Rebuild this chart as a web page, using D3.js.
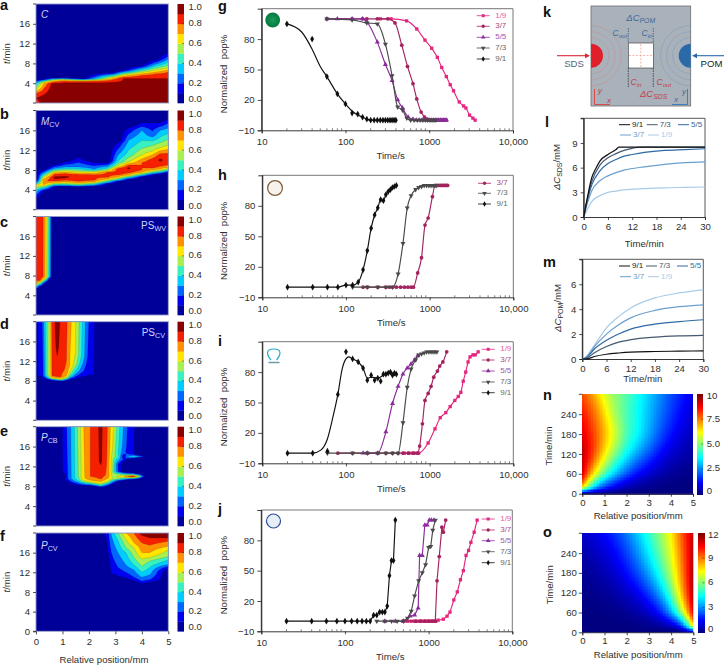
<!DOCTYPE html>
<html><head><meta charset="utf-8">
<style>html,body{margin:0;padding:0;background:#fff}svg{display:block}text{font-family:"Liberation Sans",Arial,sans-serif;white-space:pre}</style>
<script src="https://cdnjs.cloudflare.com/ajax/libs/d3/7.8.5/d3.min.js"></script>
</head><body><svg id="c" width="724" height="666"></svg>
<script>
// ---------- heat map panels: column knots [x, [[t,v],...]]
const mapA=[[0,[[0,.85],[1,.9],[2,.8],[3,.55],[4,.35],[4.6,.1],[5,.03]]],[.3,[[0,.95],[1,.95],[2,.88],[3,.8],[4,.7],[4.3,.55],[4.8,.1],[5.3,0]]],[.65,[[0,1],[3.9,.95],[4.2,.8],[4.6,.6],[5.1,.1],[5.5,0]]],[1,[[0,1],[4.1,.9],[4.4,.8],[4.7,.6],[5.1,.1],[5.5,0]]],[1.8,[[0,1],[4.1,.9],[4.35,.8],[4.55,.6],[4.9,.1],[5.3,0]]],[2.9,[[0,1],[4.2,.9],[4.7,.8],[5.2,.6],[6.1,.1],[6.5,0]]],[3.3,[[0,1],[5,.9],[5.2,.8],[5.7,.6],[6.6,.1],[7,0]]],[4,[[0,1],[5,.9],[5.6,.8],[6.2,.6],[7.5,.1],[8,0]]],[4.5,[[0,1],[5,.9],[5.9,.8],[6.6,.6],[8.6,.1],[9,0]]],[5,[[0,1],[5,.9],[6.3,.8],[7.1,.6],[10,.1],[10.5,0]]]];
const mapB=[[0,[[1.5,0],[2.3,.1],[3.5,.3],[4.7,.6],[5,.65],[5.4,.3],[5.8,.1],[6.2,0]]],[.3,[[3,0],[3.8,.1],[4.4,.4],[5,.7],[5.8,.8],[6.6,.6],[7.4,.3],[8,.1],[8.4,0]]],[.7,[[4,0],[4.6,.1],[5,.4],[5.5,.7],[6,.88],[6.5,.93],[7.2,.8],[7.7,.6],[8.3,.3],[9,.1],[9.4,0]]],[1.1,[[4.2,0],[4.7,.1],[5,.4],[5.6,.7],[6.2,.88],[6.6,.93],[7.3,.8],[7.8,.6],[8.6,.3],[9.6,.1],[10,0]]],[1.6,[[4.1,0],[4.6,.1],[4.9,.4],[5.4,.7],[5.8,.82],[7,.85],[7.6,.6],[8.6,.3],[10.5,.1],[11,0]]],[2.2,[[4,0],[4.7,.1],[5.1,.4],[5.6,.7],[6,.82],[7,.82],[7.6,.6],[8.2,.3],[9.5,.1],[10,0]]],[2.7,[[4.6,0],[5.2,.1],[5.6,.4],[6.2,.7],[6.6,.82],[7.5,.82],[7.9,.6],[8.4,.4],[9.4,.1],[9.8,0]]],[3.1,[[5.1,0],[5.7,.1],[6,.4],[6.6,.7],[7.2,.85],[8.2,.85],[8.8,.6],[9.8,.4],[11,.3],[13.5,.1],[14,0]]],[3.5,[[5.6,0],[6.1,.1],[6.5,.4],[7,.7],[7.6,.85],[8.4,.92],[9,.8],[9.6,.6],[11,.45],[14,.3],[16.5,.1],[17,0]]],[4,[[6,0],[6.6,.1],[7,.4],[7.5,.7],[8,.8],[9.5,.8],[11,.6],[13,.45],[16,.3],[17.5,.1],[18,0]]],[4.4,[[6.4,0],[7,.1],[7.4,.4],[8,.7],[8.6,.85],[10,.85],[11.8,.6],[13.5,.45],[15,.25],[17.5,.1],[18,0]]],[4.7,[[6.6,0],[7.2,.1],[7.6,.4],[8.2,.7],[9,.85],[10,.92],[11,.85],[12.5,.6],[14,.45],[16,.3],[17.5,.1],[18.2,0]]],[5,[[7,0],[7.5,.1],[7.9,.4],[8.5,.7],[9.3,.85],[11,.85],[13,.6],[14.8,.45],[17,.25],[18.3,.1],[18.8,0]]]];
const mapC=[[0,[[4.8,0],[5.4,.1],[5.7,.4],[6.2,.6],[6.6,.8],[20,.82]]],[.15,[[5,0],[5.8,.1],[6.2,.4],[6.6,.6],[7,.8],[7.4,.88],[20,.88]]],[.3,[[5.5,0],[6.3,.1],[6.8,.4],[7.2,.6],[7.8,.78],[20,.78]]],[.4,[[6,0],[6.7,.1],[7.2,.4],[7.6,.6],[20,.62]]],[.5,[[6.5,0],[7.3,.1],[7.8,.4],[20,.42]]],[.6,[[7,0],[7.9,.1],[20,.12]]],[.66,[[20,0]]],[5,[[20,0]]]];
const mapD=[[0,[[20,0]]],[.04,[[8.9,0],[9,.05],[20,.05]]],[.07,[[8.8,0],[9,.11],[20,.11]]],[.2,[[8.4,0],[8.9,.1],[20,.14]]],[.3,[[8.1,0],[8.6,.12],[9,.25],[20,.3]]],[.43,[[8,0],[8.4,.2],[8.8,.4],[9.3,.5],[20,.5]]],[.53,[[7.9,0],[8.3,.2],[8.6,.5],[9.2,.65],[20,.65]]],[.6,[[7.8,0],[8.2,.2],[8.5,.6],[9,.8],[20,.82]]],[.8,[[7.6,0],[8,.15],[8.4,.6],[8.9,.82],[10,.87],[13,.9],[15,.93],[20,.96]]],[.95,[[7.7,0],[8,.2],[8.3,.6],[8.8,.8],[11,.84],[20,.87]]],[1.15,[[7.7,0],[8.1,.15],[8.5,.5],[9,.7],[10,.78],[12,.8],[20,.82]]],[1.3,[[7.8,0],[8.3,.1],[8.8,.35],[9.6,.55],[11,.68],[20,.72]]],[1.5,[[8,0],[8.5,.1],[9.4,.3],[10.5,.45],[11.5,.55],[14,.6],[20,.6]]],[1.7,[[8.3,0],[8.8,.1],[10,.25],[11.5,.35],[13,.42],[20,.44]]],[1.95,[[8.7,0],[9,.1],[11,.15],[13,.2],[20,.22]]],[2.2,[[8.9,0],[9.2,.1],[20,.11]]],[2.27,[[20,0]]],[5,[[20,0]]]];
const mapE=[[0,[[20,0]]],[.97,[[20,0]]],[1,[[10.5,0],[11,.1],[20,.12]]],[1.2,[[8.5,0],[8.9,.1],[9.5,.2],[20,.22]]],[1.4,[[8,0],[8.4,.1],[9,.25],[9.6,.35],[20,.36]]],[1.6,[[7.9,0],[8.2,.1],[8.8,.3],[9.3,.45],[10,.5],[20,.52]]],[1.8,[[7.8,0],[8.1,.1],[8.6,.35],[9,.55],[9.6,.68],[20,.7]]],[2.05,[[7.8,0],[8.1,.1],[8.5,.4],[8.9,.62],[9.4,.75],[10,.8],[20,.8]]],[2.25,[[7.8,0],[8,.15],[8.4,.45],[8.8,.65],[9.3,.75],[10,.82],[13,.86],[20,.86]]],[2.45,[[7.6,0],[7.9,.2],[8.2,.45],[8.7,.65],[9.2,.75],[9.6,.82],[11.5,.88],[13,.92],[20,.93]]],[2.7,[[7.7,0],[8.1,.15],[8.6,.45],[9,.6],[9.6,.72],[10.2,.78],[20,.8]]],[2.9,[[8.2,0],[8.7,.2],[9.2,.45],[9.6,.6],[10.3,.55],[11,.5],[13,.52],[14,.55],[16,.6],[20,.62]]],[3.1,[[8.7,0],[9,.1],[9.5,.5],[10,.62],[10.5,.5],[11,.2],[12.5,.2],[13.5,.35],[14,.45],[14.6,.4],[16,.42],[20,.45]]],[3.3,[[9,0],[9.5,.4],[10,.7],[10.5,.4],[11,.02],[12.5,0],[13.4,.2],[14,.12],[14.6,.22],[16,.27],[20,.3]]],[3.5,[[9.2,0],[9.6,.4],[10,.85],[10.4,.4],[10.9,0],[13.4,0],[13.7,.25],[14,.32],[14.3,.22],[15,.15],[20,.17]]],[3.7,[[9.3,0],[9.6,.4],[10,.88],[10.4,.4],[10.8,0],[13.5,0],[13.75,.25],[14,.4],[14.25,.25],[14.6,.1],[20,.11]]],[3.9,[[9.4,0],[9.7,.3],[10,.6],[10.3,.3],[10.6,0],[13.6,0],[14,.33],[14.4,0],[20,0]]],[4.1,[[9.8,0],[10,.12],[10.2,0],[13.8,0],[14,.15],[14.2,0],[20,0]]],[4.2,[[20,0]]],[5,[[20,0]]]];
const mapF=[[0,[[20,0]]],[2.5,[[20,0]]],[2.6,[[17,0],[20,.1]]],[2.7,[[14,0],[15,.05],[17,.1],[20,.15]]],[2.85,[[11.2,0],[11.7,.1],[16,.2],[19.5,.3],[20,.32]]],[3.1,[[10.7,0],[11.2,.1],[13,.2],[16,.3],[18.5,.4],[20,.5]]],[3.4,[[10.3,0],[10.8,.1],[12,.2],[13.5,.3],[16,.4],[17,.5],[18.7,.6],[20,.7]]],[3.7,[[9.8,0],[10.3,.1],[11,.2],[12.5,.3],[13.5,.4],[15,.5],[17,.6],[18,.7],[20,.8]]],[4,[[9.2,0],[9.7,.1],[10.2,.2],[11,.3],[12,.4],[13.2,.5],[14.7,.6],[16,.7],[18,.8],[19.5,.9],[20,.95]]],[4.3,[[9.5,0],[10,.1],[10.5,.2],[11.5,.3],[13,.4],[14.3,.5],[15,.6],[16,.7],[17.5,.8],[19,.9],[20,.97]]],[5,[[12.2,0],[12.8,.1],[13.2,.2],[13.6,.3],[14.5,.4],[15.2,.5],[16.5,.6],[17.3,.7],[18.3,.8],[19,.9],[20,1]]]];
const bandThresholds=[.1,.2,.3,.4,.5,.6,.7,.8,.9];
const bandColors=['#000098','#0000ee','#0066ff','#00ccff','#38f0c0','#a8f050','#ffe600','#ff9000','#f52000','#880000'];
const cbTicks=[0,.2,.4,.6,.8,1];
const mapTicks=[4,8,12,16];
const posTicks=[0,1,2,3,4,5];

// ---------- line panels: [time/s, normalized pop%]
const g_1_9=[[260,100],[350,100],[537,98],[710,90],[890,79],[1070,71],[1250,62],[1410,52],[1600,43],[1780,35],[1950,29],[2280,18],[2570,14],[2740,12],[3030,5],[3320,2],[3530,0]];
const g_3_7=[[60,100],[120,100],[160,100],[180,100],[240,100],[320,100],[390,96],[470,74],[550,53],[640,36],[710,21],[800,8],[880,3],[950,1],[1000,0],[1060,0],[1120,0],[1180,0],[1240,0],[1300,0],[1360,0],[1420,0],[1480,0],[1540,0],[1600,0]];
const g_5_5=[[60,100],[80,100],[120,100],[160,100],[180,97],[240,77],[300,55],[360,39],[420,20],[480,12],[560,3],[640,1],[700,0],[760,0],[820,0],[880,0],[940,0],[1000,0],[1060,0],[1120,0],[1180,0],[1240,0],[1300,0],[1360,0],[1420,0],[1480,0],[1540,0],[1600,0]];
const g_7_3=[[60,100],[120,99],[180,96],[240,95],[300,75],[360,44],[420,13],[480,10],[540,2],[600,0],[660,0],[720,0],[780,0],[840,0],[900,0],[960,0],[1020,0],[1080,0],[1140,0],[1200,0]];
const g_9_1=[[20,95],[60,43],[80,26],[100,16],[120,7],[140,6],[160,3],[180,1],[200,0],[220,0],[240,0],[260,0],[280,0],[300,0],[320,0],[340,0],[360,0],[380,0],[400,0]];
const g_9_1_line=[[20,95],[30,87],[40,70],[50,53],[60,43],[80,26],[100,16],[120,9],[140,5],[160,3],[180,1],[200,0],[400,0]];
const g_9_1_off=[[40,80]];

const h_3_7=[[160,0],[180,0],[240,0],[300,0],[330,0],[360,0],[400,0],[450,0],[500,0],[550,0],[600,0],[640,0],[720,14],[800,29],[880,61],[960,68],[1080,89],[1160,100],[1220,100],[1280,100],[1340,100],[1400,100],[1460,100],[1520,100],[1580,100],[1640,100]];
const h_7_3=[[120,0],[180,0],[240,0],[300,0],[360,0],[420,13],[480,43],[540,78],[600,90],[680,96],[740,98],[800,99],[860,100],[920,100],[980,100],[1040,100],[1100,100],[1160,100],[1200,100]];
const h_9_1=[[20,0],[40,0],[60,0],[80,0],[100,2],[120,2],[140,5],[160,17],[180,36],[200,58],[220,71],[240,78],[260,86],[280,85],[300,91],[320,94],[340,96],[360,98],[380,99],[400,100]];

const i_1_9=[[500,0],[560,0],[620,0],[680,0],[740,0],[960,10],[1160,24],[1340,35],[1560,40],[1760,46],[2000,52],[2200,56],[2360,60],[2520,71],[2700,80],[2880,90],[3040,95],[3300,97],[3500,97],[3800,100]];
const i_3_7=[[80,0],[120,0],[180,0],[240,0],[300,0],[360,0],[420,0],[480,0],[560,0],[640,0],[720,0],[760,7],[820,29],[880,52],[960,59],[1040,66],[1120,75],[1240,81],[1320,86],[1440,90],[1600,100]];
const i_5_5=[[160,0],[180,0],[240,0],[300,21],[360,49],[420,66],[480,78],[540,84],[600,88],[660,92],[720,96]];
const i_7_3=[[60,0],[120,0],[180,0],[240,0],[300,0],[360,0],[420,0],[480,30],[540,65],[600,83],[680,92],[740,97],[800,98],[860,99],[920,100],[980,100],[1040,100],[1100,100],[1160,100],[1220,100]];
const i_9_1=[[20,0],[40,0],[80,58],[120,93],[140,90],[160,84],[180,72],[200,77],[220,72],[240,74],[260,71],[280,78],[300,78],[320,79],[340,80],[360,77],[380,79],[400,78]];
const i_9_1_line=[[20,0],[40,0],[50,3],[60,14],[70,36],[80,58],[90,83],[100,93],[108,95],[120,93],[140,90],[160,84],[180,74],[200,75],[240,74],[280,77],[320,79],[400,78]];
const i_9_1_off=[[60,2],[100,100]];

const j_1_9=[[500,0],[560,0],[620,0],[680,0],[740,0],[800,0],[860,0],[920,0],[980,0],[1040,0],[1100,0],[1160,0],[1220,0],[1300,1],[1500,2],[1660,5],[1800,9],[2000,21],[2200,29],[2400,41],[2600,50],[2800,65],[3000,70],[3200,78],[3500,88],[3800,100]];
const j_3_7=[[500,0],[700,0],[800,0],[900,0],[1000,0],[1100,0],[1200,0],[1260,40],[1340,64],[1440,93],[1500,88],[1600,100]];
const j_5_5=[[300,0],[400,0],[500,0],[600,5],[680,6],[750,13],[780,65],[840,65],[900,95],[960,95],[1020,100],[1080,100],[1160,100]];
const j_7_3=[[240,0],[300,0],[360,0],[420,0],[500,0],[560,3],[620,10],[680,25],[760,40],[840,48],[920,56],[1000,73],[1060,74],[1120,90],[1200,100]];
const j_9_1=[[20,0],[40,0],[60,0],[80,0],[100,0],[120,0],[140,0],[160,0],[180,0],[200,0],[220,6],[240,6],[260,9],[280,9],[300,9],[320,15],[340,45],[360,60],[380,60],[400,100]];

const lineColors={'1/9':'#e5267f','3/7':'#a3235f','5/5':'#8b2c9c','7/3':'#4a4a4a','9/1':'#101010'};
const legendTextColors={'1/9':'#e6609a','3/7':'#a84a80','5/5':'#a055b0','7/3':'#666','9/1':'#666'};
const symbols={'1/9':d3.symbolSquare,'3/7':d3.symbolCircle,'5/5':d3.symbolTriangle,'7/3':d3.symbolTriangle,'9/1':d3.symbolDiamond};

// ---------- uptake curves: [min, mM]
const l_9_1=[[0,0],[1,2.6],[2,4.8],[3,5.9],[4,6.8],[6,7.6],[8,8.2],[8.7,8.5],[30,8.5]];
const l_7_3=[[0,0],[1,2.4],[2,4.3],[4,6.3],[6,7.2],[8,7.7],[10,8.1],[12,8.35],[14,8.5],[30,8.5]];
const l_5_5=[[0,0],[1,2.2],[2,3.9],[4,5.6],[6,6.5],[8,7],[10,7.4],[12,7.6],[15,7.85],[20,8.1],[25,8.2],[30,8.3]];
const l_3_7=[[0,0],[1,1.8],[2,3.2],[4,4.4],[6,5],[8,5.4],[10,5.7],[15,6.1],[20,6.4],[25,6.6],[30,6.7]];
const l_1_9=[[0,0],[1,1],[2,1.9],[4,2.6],[6,3],[8,3.15],[10,3.3],[15,3.45],[20,3.55],[25,3.6],[30,3.65]];
const m_9_1=[[0,0],[1,0],[3,.2],[6,.38],[9,.48],[12,.55],[18,.6],[24,.63],[30,.65]];
const m_7_3=[[0,0],[1,.05],[3,.5],[6,1],[9,1.35],[12,1.55],[18,1.75],[24,1.85],[30,1.9]];
const m_5_5=[[0,0],[1,.1],[3,.8],[6,1.5],[9,2],[12,2.4],[18,2.8],[24,3],[30,3.15]];
const m_3_7=[[0,0],[1,.15],[3,1],[6,2],[9,2.75],[12,3.3],[18,3.9],[24,4.2],[30,4.35]];
const m_1_9=[[0,0],[1,.2],[3,1.1],[6,2.5],[9,3.4],[12,4.1],[18,4.9],[24,5.3],[30,5.55]];
const uptakeColors={'9/1':'#101010','7/3':'#44586f','5/5':'#2f6aa3','3/7':'#6b9fce','1/9':'#a8cbe8'};

// ---------- concentration maps, grid read at these positions and times
const gridX=[0,.5,1,1.5,2,2.5,3,3.5,4,4.5,5];
const gridT=[0,20,60,120,180,240,300];
const nGrid=[
[0,0,0,0,0,0,0,0,0,0,0],
[7.5,3.2,1.6,.8,.4,.2,.1,.05,0,0,0],
[9.3,6.8,4.6,3.2,2,1.2,.7,.4,.2,.1,.05],
[9.5,8.4,6.6,5,3.9,2.9,2.1,1.3,.8,.5,.3],
[9,8.2,7.1,6,4.5,3.9,3,2.1,1.4,.9,.6],
[8.6,7.9,6.6,5.2,4.4,3.8,3.1,2.4,1.8,1.2,.8],
[8,7.2,5.9,5.1,4.6,3.9,3.3,2.6,2,1.5,1]];
const oGrid=[
[0,0,0,0,0,0,0,0,0,0,.5],
[0,0,0,0,0,.05,.1,.2,.5,1.2,8.5],
[0,0,.05,.1,.2,.4,.8,1.6,3.4,7,11],
[.1,.15,.25,.45,.8,1.3,2.2,3.5,5.6,8.6,11.5],
[.25,.35,.6,1,1.6,2.4,3.5,4.9,6.7,9,11.5],
[.5,.7,1,1.5,2.2,3.2,4.4,5.7,7.2,9.3,11.3],
[.9,1.1,1.5,2.1,2.9,3.9,5,6.2,7.5,9.6,11.2]];

// ---------- helpers
const svg=d3.select('#c');
const TXT='#2f2f2f',FS=9.6;
function label(x,y,s,o={}){return svg.append('text').attr('x',x).attr('y',y).attr('fill',o.fill||TXT).attr('font-size',o.size||FS).attr('text-anchor',o.anchor||'start').attr('dominant-baseline','middle').attr('font-weight',o.weight||null).attr('font-style',o.style||null).text(s);}
function rich(x,y,parts,o={}){ // parts [text,italic,sub]
  const t=svg.append('text').attr('fill',o.fill||TXT).attr('font-size',o.size||FS).attr('text-anchor',o.anchor||'start')
    .attr('transform',`translate(${x},${y})`+(o.rotate?` rotate(${o.rotate})`:''));
  let pending=0;
  parts.forEach(p=>{const s=t.append('tspan').text(p[0]).attr('font-style',p[1]?'italic':null);
    const d=p[2]?2:0; if(p[2])s.attr('font-size',(o.size||FS)*.72); if(d-pending)s.attr('dy',d-pending); pending=d;});
  return t;}
function letter(x,y,s){svg.append('text').attr('x',x).attr('y',y).attr('font-size',14.5).attr('font-weight','bold').attr('fill','#111').text(s);}
function jet(v){const c=a=>Math.round(255*Math.max(0,Math.min(1,1.5-Math.abs(4*v-a))));return `rgb(${c(3)},${c(2)},${c(1)})`;}
function styleAxis(g,o={}){g.selectAll('.domain').attr('stroke',o.domain||'#222').attr('stroke-width',o.dw||.9);g.selectAll('.tick line').attr('stroke','#222').attr('stroke-width',.8);g.selectAll('.tick text').attr('fill',TXT).attr('font-size',o.size||FS).attr('font-family','"Liberation Sans",Arial,sans-serif');}
let cid=0;
function sampler(cols){const xs=cols.map(c=>c[0]);const sc=cols.map(c=>{const k=c[1];if(k.length==1)return ()=>k[0][1];return d3.scaleLinear(k.map(p=>p[0]),k.map(p=>p[1])).clamp(true);});
  return (x,t)=>{let i=Math.min(xs.length-2,Math.max(0,d3.bisectRight(xs,x)-1));const f=(x-xs[i])/(xs[i+1]-xs[i]);return sc[i](t)*(1-f)+sc[i+1](t)*f;};}
const intFmt=d3.format('d');

// ---------- contour maps
const mapLeft=36,mapRight=168.3,barL=177.5,barR=184;
function contourPanel(cols,top,bottom,o={}){
  const x=d3.scaleLinear([0,5],[mapLeft,mapRight]),y=d3.scaleLinear([0,20],[bottom,top]);
  const nx=240,ny=240,s=sampler(cols),vals=new Float64Array(nx*ny);
  for(let j=0;j<ny;j++)for(let i=0;i<nx;i++)vals[j*nx+i]=s(i/(nx-1)*5,j/(ny-1)*20);
  const id='clip'+(cid++);
  svg.append('clipPath').attr('id',id).append('rect').attr('x',mapLeft).attr('y',top).attr('width',mapRight-mapLeft).attr('height',bottom-top);
  const g=svg.append('g').attr('clip-path',`url(#${id})`);
  g.append('rect').attr('x',mapLeft).attr('y',top).attr('width',mapRight-mapLeft).attr('height',bottom-top).attr('fill',bandColors[0]);
  const proj=d3.geoTransform({point(px,py){this.stream.point(x((px-.5)/(nx-1)*5),y((py-.5)/(ny-1)*20));}});
  const path=d3.geoPath(proj);
  g.selectAll('path').data(d3.contours().size([nx,ny]).thresholds(bandThresholds)(vals)).join('path')
    .attr('d',path).attr('fill',(d,i)=>bandColors[i+1]).attr('stroke','#201010').attr('stroke-opacity',.4).attr('stroke-width',.3);
  svg.append('rect').attr('x',mapLeft).attr('y',top).attr('width',mapRight-mapLeft).attr('height',bottom-top).attr('fill','none').attr('stroke','#8f97c8').attr('stroke-width',.9);
  const ya=svg.append('g').attr('transform',`translate(${mapLeft},0)`).call(d3.axisLeft(y).tickValues(o.last?[0,...mapTicks]:mapTicks).tickSize(3).tickPadding(3));
  styleAxis(ya,{domain:'none'});
  svg.append('line').attr('x1',mapLeft-3).attr('x2',mapLeft).attr('y1',bottom).attr('y2',bottom).attr('stroke','#222').attr('stroke-width',.8);
  svg.append('line').attr('x1',mapLeft-3).attr('x2',mapLeft).attr('y1',top).attr('y2',top).attr('stroke','#222').attr('stroke-width',.8);
  rich(9.5,(top+bottom)/2,[['t',true],['/min',false]],{rotate:-90,anchor:'middle'});
  // colour bar
  const cb=d3.scaleLinear([0,1],[bottom,top]);
  svg.append('g').selectAll('rect').data(bandColors).join('rect').attr('x',barL).attr('width',barR-barL)
    .attr('y',(d,i)=>cb((i+1)/10)).attr('height',(d,i)=>cb(i/10)-cb((i+1)/10)+.3).attr('fill',d=>d);
  svg.append('g').selectAll('line').data(cbTicks.slice(1,-1)).join('line').attr('x1',barR-2).attr('x2',barR).attr('y1',d=>cb(d)).attr('y2',d=>cb(d)).attr('stroke','#222').attr('stroke-width',.5);
  svg.append('g').selectAll('text').data(cbTicks).join('text').attr('x',188.5).attr('y',d=>cb(d)+(d==0?-3.7:d==1?3.5:0)).attr('dominant-baseline','middle').attr('font-size',FS).attr('fill',TXT).text(d=>d.toFixed(1));
  return {x,y};
}
contourPanel(mapA,4,103);
contourPanel(mapB,110.5,209.7);
contourPanel(mapC,216.5,315);
contourPanel(mapD,321.7,420.3);
contourPanel(mapE,426.7,526);
const fp=contourPanel(mapF,533,631.3,{last:true});
const fx=svg.append('g').attr('transform','translate(0,631.3)').call(d3.axisBottom(fp.x).tickValues(posTicks).tickFormat(intFmt).tickSize(3).tickPadding(4));
styleAxis(fx,{domain:'none'});
label(104,660,'Relative position/mm',{anchor:'middle'});
const mapLab='#cdd6ff';
rich(41,18,[['C',true]],{fill:mapLab,size:10});
rich(41,125,[['M',true],['CV',false,1]],{fill:mapLab,size:10});
rich(166,229,[['PS',false],['WV',false,1]],{fill:mapLab,size:10,anchor:'end'});
rich(165,336,[['PS',false],['CV',false,1]],{fill:mapLab,size:10,anchor:'end'});
rich(41,441,[['P',true],['CB',false,1]],{fill:mapLab,size:10});
rich(41,549,[['P',true],['CV',false,1]],{fill:mapLab,size:10});

// ---------- log-time line panels
const yTicks=[-10,20,50,80];
function linePanel(p){
  const x=d3.scaleLog([10,10000],[p.x0,p.x1]),y=d3.scaleLinear([-10,110],[p.bottom,p.top]);
  svg.append('path').attr('d',`M${p.x0},${p.top}H${p.x1}V${p.bottom}`).attr('fill','none').attr('stroke','#777').attr('stroke-width',1);
  const xa=svg.append('g').attr('transform',`translate(0,${p.bottom})`).call(d3.axisBottom(x).tickValues([10,100,1000,10000]).tickFormat(d=>d==10000?'10,000':d).tickSize(3).tickPadding(5));
  styleAxis(xa);
  const minors=[2,3,4,5,6,7,8,9].flatMap(m=>[10,100,1000].map(d=>m*d));
  svg.append('g').selectAll('line').data(minors).join('line').attr('x1',d=>x(d)).attr('x2',d=>x(d)).attr('y1',p.bottom-2).attr('y2',p.bottom).attr('stroke','#222').attr('stroke-width',.6);
  const ya=svg.append('g').attr('transform',`translate(${p.x0},0)`).call(d3.axisLeft(y).tickValues(yTicks).tickFormat(d=>d<0?'\u2212'+(-d):d).tickSize(4).tickPadding(3));
  styleAxis(ya);
  svg.append('path').attr('d',`M${p.x0},${p.bottom}V${p.top}`).attr('stroke','#222').attr('stroke-width',.9);
  label(p.x0+129,p.bottom+26.5,'Time/s',{anchor:'middle'});
  rich(226.5,(p.top+p.bottom)/2+4.5,[['Normalized  pop%',false]],{rotate:-90,anchor:'middle'});
  const ln=d3.line().x(d=>x(d[0])).y(d=>y(d[1])).curve(p.curve||d3.curveMonotoneX);
  p.series.forEach(s=>{
    svg.append('path').attr('d',ln(s.line||s.pts)).attr('fill','none').attr('stroke',lineColors[s.k]).attr('stroke-width',1.15);
    const sym=d3.symbol().type(symbols[s.k]).size(s.k=='9/1'?13:11);
    svg.append('g').selectAll('path').data(s.pts.concat(s.off||[])).join('path').attr('d',sym)
      .attr('transform',d=>`translate(${x(d[0])},${y(d[1])})`+(s.k=='7/3'?' rotate(180)':'')).attr('fill',lineColors[s.k]);
  });
  p.series.forEach((s,i)=>{const ly=p.legend.y[i];
    svg.append('line').attr('x1',p.legend.x).attr('x2',p.legend.x+13).attr('y1',ly).attr('y2',ly).attr('stroke',lineColors[s.k]).attr('stroke-width',.8);
    const sym=d3.symbol().type(symbols[s.k]).size(9);
    svg.append('path').attr('d',sym).attr('fill',lineColors[s.k]).attr('transform',`translate(${p.legend.x+6.5},${ly})`+(s.k=='7/3'?' rotate(180)':''));
    label(p.legend.x+18.5,ly,s.k,{fill:legendTextColors[s.k],size:8});
  });
}
linePanel({x0:261.7,x1:513,top:8.7,bottom:130.3,curve:d3.curveMonotoneX,legend:{x:476.7,y:[15.7,26.3,37.3,48,59]},series:[{k:'1/9',pts:g_1_9},{k:'3/7',pts:g_3_7},{k:'5/5',pts:g_5_5},{k:'7/3',pts:g_7_3},{k:'9/1',pts:g_9_1,line:g_9_1_line,off:g_9_1_off}]});
linePanel({x0:262.3,x1:513.3,top:175.3,bottom:297.3,legend:{x:478,y:[183.3,193.3,204]},series:[{k:'3/7',pts:h_3_7},{k:'7/3',pts:h_7_3},{k:'9/1',pts:h_9_1}]});
linePanel({x0:262.3,x1:513.3,top:341.7,bottom:463.3,legend:{x:481.7,y:[349.3,360,371,382,392.7]},series:[{k:'1/9',pts:i_1_9},{k:'3/7',pts:i_3_7},{k:'5/5',pts:i_5_5},{k:'7/3',pts:i_7_3},{k:'9/1',pts:i_9_1,line:i_9_1_line,off:i_9_1_off}]});
linePanel({x0:261.3,x1:512.3,top:510,bottom:631.3,curve:d3.curveLinear,legend:{x:481.7,y:[519,530,540.7,551.7,562.7]},series:[{k:'1/9',pts:j_1_9},{k:'3/7',pts:j_3_7},{k:'5/5',pts:j_5_5},{k:'7/3',pts:j_7_3},{k:'9/1',pts:j_9_1}]});

// icons
const defs=svg.append('defs');
const rg=defs.append('radialGradient').attr('id','gr');rg.append('stop').attr('offset','0').attr('stop-color','#1f9a5a');rg.append('stop').attr('offset','1').attr('stop-color','#007a3d');
svg.append('circle').attr('cx',272.7).attr('cy',20).attr('r',7.4).attr('fill','url(#gr)');
svg.append('circle').attr('cx',275).attr('cy',188).attr('r',7.4).attr('fill','#f6f3ec').attr('stroke','#7c5a3a').attr('stroke-width',1.2);
svg.append('path').attr('d','M271,360 C266,354 266,349 273.7,349 C281.5,349 281.5,354 276.5,360').attr('fill','none').attr('stroke','#2aa9c9').attr('stroke-width',1.2);
svg.append('path').attr('d','M268.5,362.5H279.5').attr('stroke','#6f98a8').attr('stroke-width',1.5);
svg.append('circle').attr('cx',273.5).attr('cy',521).attr('r',7).attr('fill','#e8eef7').attr('stroke','#2c4f99').attr('stroke-width',1.2);

// ---------- k diagram
const RED='#d9282f',BLUE='#2a6aa8',RT='#c04050',BT='#3d6a9f';
svg.append('rect').attr('x',591).attr('y',6).attr('width',99.7).attr('height',100).attr('fill','#a9b1ba').attr('stroke','#6a6e72').attr('stroke-width',.8);
const kClip=svg.append('clipPath').attr('id','kc');kClip.append('rect').attr('x',591).attr('y',6).attr('width',99.7).attr('height',100);
const kArcs=[18,24,30];
svg.append('g').attr('clip-path','url(#kc)').selectAll('circle').data(kArcs).join('circle').attr('cx',591).attr('cy',55.7).attr('r',d=>d).attr('fill','none').attr('stroke','#d9786a').attr('stroke-width',.5).attr('stroke-dasharray','1.5,1');
svg.append('g').attr('clip-path','url(#kc)').selectAll('circle').data(kArcs).join('circle').attr('cx',690.7).attr('cy',55.7).attr('r',d=>d).attr('fill','none').attr('stroke','#5d8fc4').attr('stroke-width',.5).attr('stroke-dasharray','1.5,1');
svg.append('g').attr('clip-path','url(#kc)').append('circle').attr('cx',591).attr('cy',55.7).attr('r',12).attr('fill','#e01f2a');
svg.append('g').attr('clip-path','url(#kc)').append('circle').attr('cx',690.7).attr('cy',55.7).attr('r',12).attr('fill',BLUE);
svg.append('rect').attr('x',628.3).attr('y',43).attr('width',25).attr('height',25).attr('fill','#fff').attr('stroke','#333').attr('stroke-width',.6);
svg.append('path').attr('d','M640.8,44V67M629,55.5H653').attr('stroke','#ef8a70').attr('stroke-width',.6).attr('stroke-dasharray','2,1.5');
svg.append('path').attr('d','M628.3,28V43M653.3,28V43').attr('stroke','#2b4c7a').attr('stroke-width',.7).attr('stroke-dasharray','1.5,1');
svg.append('path').attr('d','M628.3,68V87M653.3,68V87').attr('stroke','#223').attr('stroke-width',.7).attr('stroke-dasharray','1.5,1');
svg.append('path').attr('d','M557,55.7H586').attr('stroke',RED).attr('stroke-width',1.1);
svg.append('path').attr('d','M590,55.7l-5,-2.5v5z').attr('fill',RED);
svg.append('path').attr('d','M724,55.7H697').attr('stroke',BLUE).attr('stroke-width',1.1);
svg.append('path').attr('d','M692,55.7l5,-2.5v5z').attr('fill',BLUE);
label(574,64.5,'SDS',{anchor:'middle',fill:'#55657a'});
label(711.5,64.5,'POM',{anchor:'middle',fill:'#222'});
rich(640.7,21,[['\u0394C',true],['POM',true,1]],{fill:BT,anchor:'middle',size:9.5});
rich(612.5,36,[['C',true],['out',true,1]],{fill:BT,size:8.5});
rich(641.5,36,[['C',true],['in',true,1]],{fill:BT,size:8.5});
rich(630.5,85,[['C',true],['in',true,1]],{fill:RT,size:8.5});
rich(656.5,85,[['C',true],['out',true,1]],{fill:RT,size:8.5});
rich(640,97,[['\u0394C',true],['SDS',true,1]],{fill:RT,size:9.5,anchor:'start'});
svg.append('path').attr('d','M594.5,89V104.5H610').attr('fill','none').attr('stroke','#d94a4a').attr('stroke-width',1);
svg.append('path').attr('d','M687.5,89V104.5H672').attr('fill','none').attr('stroke','#3d7fc0').attr('stroke-width',1);
rich(598,93,[['y',true]],{fill:RT,size:8});rich(607,103,[['x',true]],{fill:RT,size:8});
rich(682,94,[['y',true]],{fill:BT,size:8});rich(674,102,[['x',true]],{fill:BT,size:8});

// ---------- uptake panels
function uptakePanel(p){
  const x=d3.scaleLinear([0,30],[p.x0,p.x1]),y=d3.scaleLinear([0,p.ymax],[p.bottom,p.top]);
  svg.append('path').attr('d',`M${p.x0},${p.top}H${p.x1}V${p.bottom}`).attr('fill','none').attr('stroke','#444').attr('stroke-width',.9);
  const xa=svg.append('g').attr('transform',`translate(0,${p.bottom})`).call(d3.axisBottom(x).tickValues([0,6,12,18,24,30]).tickSize(3).tickPadding(3));styleAxis(xa);
  const ya=svg.append('g').attr('transform',`translate(${p.x0},0)`).call(d3.axisLeft(y).tickValues(p.ticks).tickSize(3).tickPadding(3));styleAxis(ya);
  svg.append('path').attr('d',`M${p.x0},${p.bottom}V${p.top}H${p.x0-3}`).attr('fill','none').attr('stroke','#222').attr('stroke-width',.9);
  const ln=d3.line().x(d=>x(d[0])).y(d=>y(d[1])).curve(d3.curveMonotoneX);
  p.series.slice().reverse().forEach(s=>svg.append('path').attr('d',ln(s.pts)).attr('fill','none').attr('stroke',uptakeColors[s.k]).attr('stroke-width',1.2));
  p.series.forEach((s,i)=>{const lx=p.leg[i][0],ly=p.leg[i][1];
    svg.append('line').attr('x1',lx).attr('x2',lx+11).attr('y1',ly).attr('y2',ly).attr('stroke',uptakeColors[s.k]).attr('stroke-width',1);
    label(lx+13,ly,s.k,{size:8,fill:s.k=='9/1'?'#222':(s.k=='7/3'?'#44586f':uptakeColors[s.k])});});
  rich(p.titleX,p.titleY,[['\u0394C',true],[p.sub,false,1],['/mM',false]],{rotate:-90,anchor:'middle'});
  label((p.x0+p.x1)/2,p.xlabY,'Time/min',{anchor:'middle'});
}
uptakePanel({x0:583.7,x1:705,top:118.3,bottom:217,ymax:12,ticks:[0,3,6,9],sub:'SDS',titleX:560,titleY:167,xlabY:244,
  leg:[[619,124.7],[646.7,124.7],[678,124.7],[620,135],[648,135]],
  series:[{k:'9/1',pts:l_9_1},{k:'7/3',pts:l_7_3},{k:'5/5',pts:l_5_5},{k:'3/7',pts:l_3_7},{k:'1/9',pts:l_1_9}]});
uptakePanel({x0:582.3,x1:703.3,top:259.3,bottom:359,ymax:8,ticks:[0,2,4,6],sub:'POM',titleX:561,titleY:308,xlabY:379,
  leg:[[619,266],[646,266],[677,266],[620,276.7],[648,276.7]],
  series:[{k:'9/1',pts:m_9_1},{k:'7/3',pts:m_7_3},{k:'5/5',pts:m_5_5},{k:'3/7',pts:m_3_7},{k:'1/9',pts:m_1_9}]});

// ---------- continuous maps n, o
function rasterPanel(grid,vmax,p){
  const x=d3.scaleLinear([0,5],[p.x0,p.x1]),y=d3.scaleLinear([0,300],[p.bottom,p.top]);
  const rowsS=grid.map(r=>d3.interpolateBasis(r));
  const tIdx=d3.scaleLinear(gridT,gridT.map((d,i)=>i/(gridT.length-1))).clamp(true);
  const cells=[];const dx=1.5,dy=1.5;
  for(let py=p.top;py<p.bottom;py+=dy)for(let px=p.x0;px<p.x1;px+=dx){
    const xv=x.invert(px+dx/2)/5,tv=y.invert(py+dy/2);
    const col=d3.interpolateBasis(rowsS.map(f=>f(Math.max(0,Math.min(1,xv)))))(tIdx(tv));
    cells.push([px,py,col]);
  }
  svg.append('g').attr('shape-rendering','crispEdges').selectAll('rect').data(cells).join('rect')
    .attr('x',d=>d[0]).attr('y',d=>d[1]).attr('width',dx+.6).attr('height',dy+.6).attr('fill',d=>jet(d[2]/vmax));
  svg.append('rect').attr('x',p.x1).attr('y',p.top-1).attr('width',2.5).attr('height',p.bottom-p.top+3).attr('fill','#fff');
  const xa=svg.append('g').attr('transform',`translate(0,${p.bottom})`).call(d3.axisBottom(x).tickValues(posTicks).tickFormat(intFmt).tickSize(3).tickPadding(2));styleAxis(xa,{domain:'#555'});
  const ya=svg.append('g').attr('transform',`translate(${p.x0},0)`).call(d3.axisLeft(y).tickValues([0,60,120,180,240]).tickSize(3.5).tickPadding(2));styleAxis(ya,{domain:'none'});
  svg.append('line').attr('x1',p.x0-3.5).attr('x2',p.x0).attr('y1',p.top).attr('y2',p.top).attr('stroke','#222').attr('stroke-width',.8);
  rich(p.titleX,(p.top+p.bottom)/2+2,[['Time/min',false]],{rotate:-90,anchor:'middle'});
  label((p.x0+p.x1)/2+.5,p.xlabY,'Relative position/mm',{anchor:'middle'});
  const cb=d3.scaleLinear([0,vmax],[p.bottom,p.top]);
  svg.append('g').attr('shape-rendering','crispEdges').selectAll('rect').data(d3.range(0,1,.01)).join('rect')
    .attr('x',p.bx).attr('width',6.5).attr('y',d=>cb((d+.01)*vmax)).attr('height',2).attr('fill',d=>jet(d+.005));
  svg.append('g').selectAll('line').data(p.bticks.slice(1,-1)).join('line').attr('x1',p.bx+4.5).attr('x2',p.bx+6.5).attr('y1',d=>cb(d)).attr('y2',d=>cb(d)).attr('stroke','#222').attr('stroke-width',.5);
  svg.append('g').selectAll('text').data(p.bticks).join('text').attr('x',p.bx+10).attr('y',(d,i)=>cb(d)+(i==0?-2.5:i==p.bticks.length-1?2.5:0)).attr('dominant-baseline','middle').attr('font-size',FS).attr('fill',TXT).text(p.fmt);
}
rasterPanel(nGrid,10,{x0:582.3,x1:693,top:394.3,bottom:493.7,titleX:551.5,xlabY:516,bx:696.7,bticks:[0,2.5,5,7.5,10],fmt:d=>(d==0||d==10)?d:d.toFixed(1)});
rasterPanel(oGrid,12,{x0:582.3,x1:693.3,top:533.3,bottom:632.3,titleX:552.5,xlabY:655.6,bx:698,bticks:[0,3,6,9,12],fmt:d=>d});

// ---------- panel letters
[['a',0,10],['b',0,119],['c',0,227],['d',0,329],['e',0,436],['f',0,541],['g',218,11],['h',218,180],['i',218,346],['j',218,514],['k',543,17],['l',545,127],['m',543,267],['n',543,400],['o',543,537]].forEach(d=>letter(d[1],d[2],d[0]));
</script></body></html>
